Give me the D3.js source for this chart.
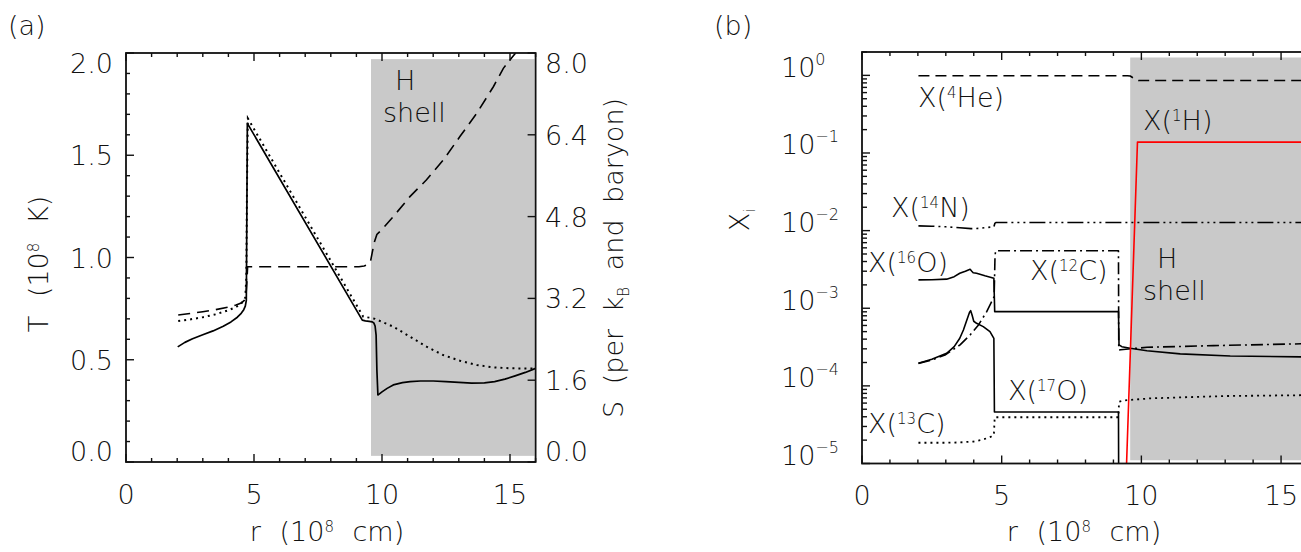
<!DOCTYPE html>
<html><head><meta charset="utf-8">
<script src="https://cdn.jsdelivr.net/npm/d3@7"></script>
<style>
html,body{margin:0;padding:0;background:#fff;}
svg{display:block;}
text{font-family:"DejaVu Sans",sans-serif;font-weight:200;fill:#111;}
</style></head><body>
<svg id="c" width="1301" height="552"></svg>
<script>
// ---------------- Panel (a) data ----------------
const rT = [2.02,2.3,2.6,3.0,3.4,3.8,4.1,4.35,4.5,4.6,4.66,4.70,4.72,4.74,9.23,9.35,9.5,9.62,9.68,9.73,9.77,9.80,9.84,9.9,10.0,10.2,10.44,10.8,11.1,11.5,12.0,12.5,13.0,13.5,14.0,14.4,14.8,15.2,15.6,16.0];
const T  = [0.563,0.585,0.603,0.622,0.641,0.664,0.685,0.708,0.727,0.745,0.762,0.79,1.2,1.656,0.694,0.690,0.688,0.685,0.680,0.665,0.62,0.45,0.328,0.333,0.343,0.36,0.377,0.388,0.393,0.396,0.396,0.393,0.389,0.386,0.387,0.393,0.405,0.421,0.438,0.458];
const rT2 = [2.04,2.5,3.0,3.5,4.0,4.3,4.5,4.6,4.66,4.70,4.73,4.76,9.27,9.5,9.73,10.0,10.44,11.09,11.74,12.39,13.05,13.7,14.35,15.0,16.0];
const T2  = [0.689,0.697,0.708,0.722,0.742,0.758,0.775,0.79,0.805,0.9,1.4,1.68,0.71,0.706,0.70,0.685,0.662,0.613,0.564,0.523,0.495,0.474,0.463,0.458,0.457];
const rS = [2.04,2.5,3.0,3.5,4.0,4.3,4.5,4.62,4.68,4.72,4.75,6.0,8.0,9.1,9.3,9.45,9.55,9.62,9.70,9.80,10.0,10.44,11.09,11.74,12.4,13.05,13.7,14.35,14.74,15.22];
const S  = [2.876,2.905,2.94,2.98,3.03,3.07,3.11,3.16,3.22,3.5,3.82,3.82,3.82,3.82,3.835,3.86,3.92,4.1,4.3,4.45,4.55,4.8,5.19,5.52,5.91,6.37,6.82,7.34,7.70,8.0];
const xTicksA = [0,5,10,15];
const tTicks = [0.0,0.5,1.0,1.5,2.0];
const sTicks = [0.0,1.6,3.2,4.8,6.4,8.0];
const shellA = [9.57,16];

// ---------------- Panel (b) data ----------------
const rHe = [2.02,9.5,9.6,9.7,9.8,9.9,16];
const xHe = [0.99,0.99,0.98,0.93,0.88,0.857,0.857];
const rH1 = [9.47,9.86,16];
const xH1 = [1e-5,0.138,0.138];
const rN14 = [2.02,2.5,3.0,3.5,3.9,4.2,4.5,4.72,4.76,4.8,16];
const xN14 = [0.0115,0.0114,0.0112,0.0109,0.0106,0.0107,0.011,0.0112,0.0125,0.0127,0.0127];
const rC12 = [2.02,2.5,2.97,3.51,3.87,4.17,4.46,4.73,4.76,4.78,9.18,9.19,9.26,10.2,12.58,16];
const xC12 = [1.95e-4,2.15e-4,2.5e-4,3.37e-4,4.53e-4,6.1e-4,9.0e-4,1.41e-3,4.5e-3,5.5e-3,5.5e-3,2.9e-4,2.92e-4,3.14e-4,3.3e-4,3.5e-4];
const rO16 = [2.02,2.5,3.03,3.3,3.5,3.7,3.87,3.93,3.98,4.1,4.4,4.72,4.75,9.18,9.2,9.3,9.6,10.2,11.39,13.18,16];
const xO16 = [2.32e-3,2.33e-3,2.37e-3,2.55e-3,2.82e-3,3.0e-3,3.18e-3,3.0e-3,2.87e-3,2.82e-3,2.62e-3,2.44e-3,9.04e-4,9.04e-4,3.37e-4,3.2e-4,3.05e-4,2.84e-4,2.58e-4,2.43e-4,2.36e-4];
const rO17 = [2.02,2.5,3.03,3.3,3.5,3.63,3.75,3.85,3.89,3.94,4.0,4.1,4.34,4.58,4.72,4.74,9.18,9.19];
const xO17 = [1.95e-4,2.2e-4,2.63e-4,3.2e-4,4.1e-4,5.25e-4,7.0e-4,8.9e-4,9.3e-4,8.2e-4,6.8e-4,6.4e-4,5.8e-4,4.99e-4,4.1e-4,4.6e-5,4.6e-5,3e-6];
const rC13 = [2.02,3.0,3.5,4.0,4.25,4.46,4.6,4.72,4.75,9.18,9.2,9.4,10.31,11.39,13.0,16];
const xC13 = [1.85e-5,1.85e-5,1.87e-5,1.92e-5,2.0e-5,2.11e-5,2.2e-5,2.33e-5,3.94e-5,3.94e-5,6.25e-5,6.5e-5,6.9e-5,7.1e-5,7.4e-5,7.6e-5];
const xTicksB = [0,5,10,15];
const decades = [0,-1,-2,-3,-4,-5];
const shellB = [9.6,16];

// ---------------- drawing ----------------
const svg = d3.select('#c');
const FS = 27;

function rich(sel, x, y, parts, anchor, ws) {
  const t = sel.append('text').attr('x', x).attr('y', y).attr('font-size', FS)
    .attr('text-anchor', anchor || 'start').style('white-space', 'pre');
  if (ws) t.style('word-spacing', ws + 'px');
  let shift = 0;
  parts.forEach(p => {
    const s = typeof p === 'string' ? p : p[0];
    const k = typeof p === 'string' ? '' : p[1];
    const target = k === 'sup' ? -9 : k === 'sub' ? 6 : 0;
    const ts = t.append('tspan').text(s).attr('dy', target - shift);
    if (k) ts.attr('font-size', 15);
    shift = target;
  });
  return t;
}
function twoLine(sel, x1, y1, s1, x2, s2, gap) {
  const t = sel.append('text').attr('font-size', FS);
  t.append('tspan').attr('x', x1).attr('y', y1).text(s1);
  t.append('tspan').attr('x', x2).attr('dy', gap).text(s2);
  return t;
}
function zipPts(xs, ys) { return xs.map((v, i) => [v, ys[i]]); }

// ===== Panel (a) =====
const xA = d3.scaleLinear().domain([0, 16]).range([126, 535.6]);
const yA = d3.scaleLinear().domain([0, 2]).range([462, 53]);
const yS = d3.scaleLinear().domain([0, 8]).range([462, 53]);
const gA = svg.append('g');
svg.append('clipPath').attr('id', 'clipA').append('rect')
  .attr('x', xA(0)).attr('y', yA(2)).attr('width', xA(16) - xA(0)).attr('height', yA(0) - yA(2));

gA.append('rect').attr('x', xA(shellA[0])).attr('y', yA(1.97))
  .attr('width', xA(shellA[1]) - xA(shellA[0]) - 1).attr('height', yA(0.03) - yA(1.97))
  .attr('fill', '#c9c9c9');

const cA = gA.append('g').attr('clip-path', 'url(#clipA)');
const lineA = d3.line().x(d => xA(d[0])).y(d => yA(d[1]));
const lineS = d3.line().x(d => xA(d[0])).y(d => yS(d[1]));
cA.append('path').attr('d', lineA(zipPts(rT2, T2))).attr('fill', 'none').attr('stroke', '#000')
  .attr('stroke-width', 2).attr('stroke-dasharray', '2,4');
cA.append('path').attr('d', lineS(zipPts(rS, S))).attr('fill', 'none').attr('stroke', '#000')
  .attr('stroke-width', 1.6).attr('stroke-dasharray', '12,7');
cA.append('path').attr('d', lineA(zipPts(rT, T))).attr('fill', 'none').attr('stroke', '#000')
  .attr('stroke-width', 1.7).attr('stroke-linejoin', 'round');

// frame + ticks (a)
gA.append('rect').attr('x', xA(0)).attr('y', yA(2)).attr('width', xA(16) - xA(0)).attr('height', yA(0) - yA(2))
  .attr('fill', 'none').attr('stroke', '#111').attr('stroke-width', 1.8);
const tk = gA.append('g').attr('stroke', '#111').attr('stroke-width', 1.4);
d3.range(0, 17).forEach(v => {
  const L = v % 5 === 0 ? 8 : 4;
  tk.append('line').attr('x1', xA(v)).attr('x2', xA(v)).attr('y1', yA(0)).attr('y2', yA(0) - L);
  tk.append('line').attr('x1', xA(v)).attr('x2', xA(v)).attr('y1', yA(2)).attr('y2', yA(2) + L);
});
d3.range(0, 21).forEach(i => {
  const v = i / 10;
  const L = i % 5 === 0 ? 8 : 4;
  tk.append('line').attr('x1', xA(0)).attr('x2', xA(0) + L).attr('y1', yA(v)).attr('y2', yA(v));
});
sTicks.forEach(v => {
  tk.append('line').attr('x1', xA(16)).attr('x2', xA(16) - 8).attr('y1', yS(v)).attr('y2', yS(v));
});
function clampMid(y, top, bot) { return Math.max(top + 10, Math.min(bot - 11, y)); }
tTicks.forEach(v => {
  gA.append('text').attr('x', 113).attr('y', clampMid(yA(v), 53, 462) + 10).attr('font-size', FS)
    .attr('text-anchor', 'end').text(v.toFixed(1));
});
sTicks.forEach(v => {
  gA.append('text').attr('x', 545).attr('y', clampMid(yS(v), 53, 462) + 10).attr('font-size', FS)
    .attr('text-anchor', 'start').text(v.toFixed(1));
});
xTicksA.forEach(v => {
  gA.append('text').attr('x', xA(v)).attr('y', 504).attr('font-size', FS)
    .attr('text-anchor', 'middle').text(String(v));
});
rich(gA, 327, 541, ['r (10', ['8', 'sup'], ' cm)'], 'middle', 10);
rich(gA.append('g').attr('transform', 'translate(48,264) rotate(-90)'), 0, 0,
  ['T (10', ['8', 'sup'], ' K)'], 'middle', 10);
rich(gA.append('g').attr('transform', 'translate(623,258) rotate(-90)'), 0, 0,
  ['S (per k', ['B', 'sub'], ' and baryon)'], 'middle', 8);
rich(gA, 8, 35, ['(a)']);
twoLine(gA, 395, 90, 'H', 383, 'shell', 32);

// ===== Panel (b) =====
const xB = d3.scaleLinear().domain([0, 16]).range([862, 1309]);
const yB = d3.scaleLog().domain([1e-5, 2]).range([463.5, 52]);
const gB = svg.append('g');
svg.append('clipPath').attr('id', 'clipB').append('rect')
  .attr('x', xB(0)).attr('y', yB(2)).attr('width', xB(16) - xB(0)).attr('height', yB(1e-5) - yB(2));

gB.append('rect').attr('x', xB(shellB[0])).attr('y', yB(1.7))
  .attr('width', xB(shellB[1]) - xB(shellB[0])).attr('height', yB(1.1e-5) - yB(1.7))
  .attr('fill', '#c9c9c9');

const cB = gB.append('g').attr('clip-path', 'url(#clipB)');
const lineB = d3.line().x(d => xB(d[0])).y(d => yB(d[1]));
function curveB(rs, xs, dash, color, w) {
  const p = cB.append('path').attr('d', lineB(zipPts(rs, xs))).attr('fill', 'none')
    .attr('stroke', color || '#000').attr('stroke-width', w || 1.6).attr('stroke-linejoin', 'round');
  if (dash) p.attr('stroke-dasharray', dash);
}
curveB(rHe, xHe, '11,6');
curveB(rN14, xN14, '16,4,2,4,2,4,2,4');
curveB(rC12, xC12, '12,4,2,4');
curveB(rO16, xO16, null);
curveB(rO17, xO17, null);
curveB(rC13, xC13, '2,4', '#000', 1.8);
curveB(rH1, xH1, null, '#ff0000', 1.6);

gB.append('rect').attr('x', xB(0)).attr('y', yB(2)).attr('width', xB(16) - xB(0)).attr('height', yB(1e-5) - yB(2))
  .attr('fill', 'none').attr('stroke', '#111').attr('stroke-width', 1.8);
const tkB = gB.append('g').attr('stroke', '#111').attr('stroke-width', 1.4);
d3.range(0, 17).forEach(v => {
  const L = v % 5 === 0 ? 8 : 4;
  tkB.append('line').attr('x1', xB(v)).attr('x2', xB(v)).attr('y1', yB(1e-5)).attr('y2', yB(1e-5) - L);
  tkB.append('line').attr('x1', xB(v)).attr('x2', xB(v)).attr('y1', yB(2)).attr('y2', yB(2) + L);
});
decades.forEach(d => {
  const base = Math.pow(10, d);
  tkB.append('line').attr('x1', xB(0)).attr('x2', xB(0) + 8).attr('y1', yB(base)).attr('y2', yB(base));
  d3.range(2, 10).forEach(m => {
    const v = m * base;
    if (v <= 2) tkB.append('line').attr('x1', xB(0)).attr('x2', xB(0) + 5).attr('y1', yB(v)).attr('y2', yB(v));
  });
  const t = gB.append('text').attr('x', 781).attr('y', yB(base) + 1.5).attr('font-size', FS);
  t.append('tspan').text('10');
  t.append('tspan').attr('font-size', 16).attr('dy', -12).text(d === 0 ? '0' : '\u2212' + Math.abs(d));
});
xTicksB.forEach(v => {
  gB.append('text').attr('x', xB(v)).attr('y', 505).attr('font-size', FS)
    .attr('text-anchor', 'middle').text(String(v));
});
rich(gB, 1084, 541, ['r (10', ['8', 'sup'], ' cm)'], 'middle', 10);
rich(gB.append('g').attr('transform', 'translate(749,220) rotate(-90)'), 0, 0, ['X', ['i', 'sub']], 'middle');
rich(gB, 714, 35, ['(b)']);
rich(gB, 918, 107, ['X(', ['4', 'sup'], 'He)']);
rich(gB, 1143, 130, ['X(', ['1', 'sup'], 'H)']);
rich(gB, 891, 217, ['X(', ['14', 'sup'], 'N)']);
rich(gB, 868, 272, ['X(', ['16', 'sup'], 'O)']);
rich(gB, 1030, 280, ['X(', ['12', 'sup'], 'C)']);
twoLine(gB, 1157, 268, 'H', 1143, 'shell', 32);
rich(gB, 1008, 400, ['X(', ['17', 'sup'], 'O)']);
rich(gB, 868, 433, ['X(', ['13', 'sup'], 'C)']);
</script></body></html>
